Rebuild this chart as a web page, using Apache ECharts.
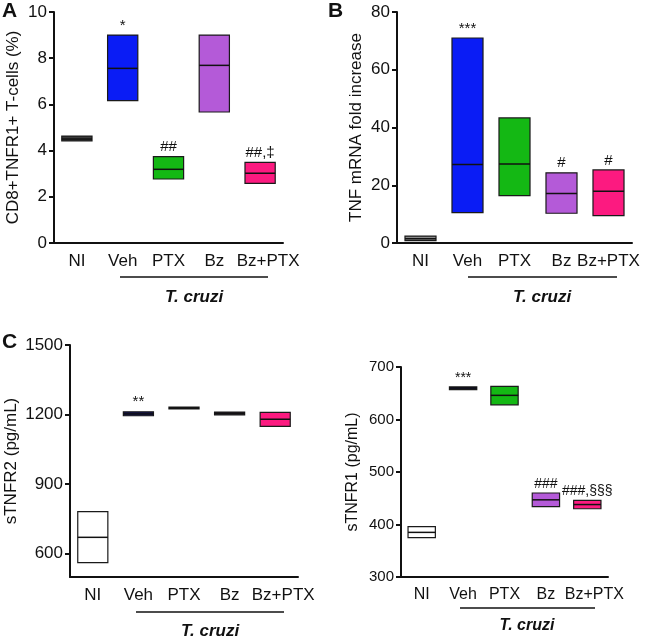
<!DOCTYPE html>
<html>
<head>
<meta charset="utf-8">
<script src="https://cdn.jsdelivr.net/npm/echarts@6/dist/echarts.min.js"></script>
<style>html,body{margin:0;padding:0;background:#fff;}#c{width:650px;height:637px;}</style>
</head>
<body>
<div id="c"></div>
<script>
const categories = ['NI', 'Veh', 'PTX', 'Bz', 'Bz+PTX'];

// Panel A: CD8+TNFR1+ T-cells (%)
const aLow = [4.42, 6.16, 2.77, 5.67, 2.58];
const aHigh = [4.63, 9.0, 3.74, 9.0, 3.49];
const aMedian = [4.5, 7.56, 3.19, 7.69, 3.02];
const aMarks = ['', '*', '##', '', '##,‡'];

// Panel B: TNF mRNA fold increase
const bLow = [0.8, 10.5, 16.4, 10.3, 9.5];
const bHigh = [2.4, 71.0, 43.3, 24.3, 25.3];
const bMedian = [1.5, 27.2, 27.4, 17.1, 17.9];
const bMarks = ['', '***', '', '#', '#'];

// Panel C: sTNFR2 (pg/mL)
const cLow = [562, 1195, 1225, 1199, 1149];
const cHigh = [782, 1212, 1232, 1211, 1210];
const cMedian = [671, 1203, 1228, 1205, 1180];
const cMarks = ['', '**', '', '', ''];

// Panel D: sTNFR1 (pg/mL)
const dLow = [375, 657, 628, 434, 430];
const dHigh = [396, 662, 663, 460, 446];
const dMedian = [385, 660, 646, 447, 438];
const dMarks = ['', '***', '', '###', '###,§§§'];

const aTicks = [0, 2, 4, 6, 8, 10];
const bTicks = [0, 20, 40, 60, 80];
const cTicks = [600, 900, 1200, 1500];
const dTicks = [300, 400, 500, 600, 700];

const BLUE = '#0a1cf5', GREEN = '#14b814', PURPLE = '#b45ad8', PINK = '#fc1a80';
const aColors = ['#3a3a3a', BLUE, GREEN, PURPLE, PINK];
const bColors = ['#8a8a8a', BLUE, GREEN, PURPLE, PINK];
const cColors = ['#ffffff', '#0c0c5a', '#111111', '#2b1b33', PINK];
const dColors = ['#ffffff', '#0c0c4a', GREEN, PURPLE, PINK];

const FONT = '"Liberation Sans", Arial, sans-serif';

function rows(lo, hi, md) {
  return categories.map((c, i) => [i, lo[i], hi[i], md[i]]);
}

function makeRender(colors, marks, markSize) {
  return function (params, api) {
    const i = api.value(0);
    const lo = api.value(1), hi = api.value(2), md = api.value(3);
    const pT = api.coord([i, hi]);
    const pB = api.coord([i, lo]);
    const pM = api.coord([i, md]);
    const w = api.size([1, 0])[0] * 0.66;
    const x0 = pT[0] - w / 2;
    const idx = params.dataIndex;
    const children = [
      { type: 'rect', shape: { x: x0, y: pT[1], width: w, height: Math.max(pB[1] - pT[1], 1) },
        style: { fill: colors[idx], stroke: '#1a1a1a', lineWidth: 1.2 } },
      { type: 'line', shape: { x1: x0, y1: pM[1], x2: x0 + w, y2: pM[1] },
        style: { stroke: '#111', lineWidth: 1.5 } }
    ];
    if (marks[idx]) {
      children.push({ type: 'text', x: pT[0], y: pT[1] - 2,
        style: { text: marks[idx], fill: '#111', font: markSize + 'px ' + FONT, align: 'center', verticalAlign: 'bottom' } });
    }
    return { type: 'group', children: children };
  };
}

function yAxis(gi, min, max, ticks, name, nameGap, size, nameSize) {
  return {
    type: 'value', gridIndex: gi, min: min, max: max,
    name: name, nameLocation: 'middle', nameGap: nameGap, nameRotate: 90,
    nameTextStyle: { fontFamily: FONT, fontSize: nameSize, color: '#111' },
    axisLine: { show: true, lineStyle: { color: '#111', width: 2 } },
    axisTick: { show: true, length: 5, lineStyle: { color: '#111', width: 2 }, customValues: ticks },
    axisLabel: { fontFamily: FONT, fontSize: size, color: '#111', margin: 7, customValues: ticks,
      formatter: function (v) { return String(v); } },
    splitLine: { show: false }
  };
}

function xAxis(gi, size, shift) {
  return {
    type: 'category', gridIndex: gi, data: categories,
    axisLine: { show: true, lineStyle: { color: '#111', width: 2 } },
    axisTick: { show: false },
    axisLabel: {
      fontFamily: FONT, fontSize: size, color: '#111', margin: 10, interval: 0,
      formatter: function (v, i) { return i === categories.length - 1 ? '{s|' + v + '}' : v; },
      rich: { s: { fontFamily: FONT, fontSize: size, color: '#111', padding: [0, 0, 0, shift] } }
    }
  };
}

const chart = echarts.init(document.getElementById('c'));
chart.setOption({
  animation: false,
  backgroundColor: '#fff',
  grid: [
    { left: 54, top: 12, right: 367, bottom: 394 },
    { left: 397, top: 12, right: 18, bottom: 394 },
    { left: 70, top: 345, right: 352, bottom: 60 },
    { left: 401, top: 367, right: 42, bottom: 60 }
  ],
  xAxis: [xAxis(0, 17, 16), xAxis(1, 17, 0), xAxis(2, 17, 16), xAxis(3, 16, 14)],
  yAxis: [
    yAxis(0, 0, 10, aTicks, 'CD8+TNFR1+ T-cells (%)', 32, 17, 17),
    yAxis(1, 0, 80, bTicks, 'TNF mRNA fold increase', 32, 17, 17),
    yAxis(2, 500, 1500, cTicks, 'sTNFR2 (pg/mL)', 50, 17, 17),
    yAxis(3, 300, 700, dTicks, 'sTNFR1 (pg/mL)', 40, 15, 16)
  ],
  series: [
    { type: 'custom', xAxisIndex: 0, yAxisIndex: 0, data: rows(aLow, aHigh, aMedian), renderItem: makeRender(aColors, aMarks, 15), encode: { x: 0, y: [1, 2, 3] } },
    { type: 'custom', xAxisIndex: 1, yAxisIndex: 1, data: rows(bLow, bHigh, bMedian), renderItem: makeRender(bColors, bMarks, 15), encode: { x: 0, y: [1, 2, 3] } },
    { type: 'custom', xAxisIndex: 2, yAxisIndex: 2, data: rows(cLow, cHigh, cMedian), renderItem: makeRender(cColors, cMarks, 15), encode: { x: 0, y: [1, 2, 3] } },
    { type: 'custom', xAxisIndex: 3, yAxisIndex: 3, data: rows(dLow, dHigh, dMedian), renderItem: makeRender(dColors, dMarks, 14), encode: { x: 0, y: [1, 2, 3] } }
  ],
  graphic: [
    { type: 'text', left: 2, top: 1, style: { text: 'A', font: 'bold 21px ' + FONT, fill: '#111' } },
    { type: 'text', left: 328, top: 1, style: { text: 'B', font: 'bold 21px ' + FONT, fill: '#111' } },
    { type: 'text', left: 2, top: 332, style: { text: 'C', font: 'bold 21px ' + FONT, fill: '#111' } },
    { type: 'line', shape: { x1: 120, y1: 277, x2: 268, y2: 277 }, style: { stroke: '#111', lineWidth: 1.5 } },
    { type: 'line', shape: { x1: 468, y1: 277, x2: 617, y2: 277 }, style: { stroke: '#111', lineWidth: 1.5 } },
    { type: 'line', shape: { x1: 136, y1: 612, x2: 284, y2: 612 }, style: { stroke: '#111', lineWidth: 1.5 } },
    { type: 'line', shape: { x1: 460, y1: 608, x2: 595, y2: 608 }, style: { stroke: '#111', lineWidth: 1.5 } },
    { type: 'text', x: 194, y: 297, style: { text: 'T. cruzi', font: 'italic bold 17px ' + FONT, fill: '#111', align: 'center', verticalAlign: 'middle' } },
    { type: 'text', x: 542, y: 297, style: { text: 'T. cruzi', font: 'italic bold 17px ' + FONT, fill: '#111', align: 'center', verticalAlign: 'middle' } },
    { type: 'text', x: 210, y: 631, style: { text: 'T. cruzi', font: 'italic bold 17px ' + FONT, fill: '#111', align: 'center', verticalAlign: 'middle' } },
    { type: 'text', x: 527, y: 626, style: { text: 'T. cruzi', font: 'italic bold 16px ' + FONT, fill: '#111', align: 'center', verticalAlign: 'middle' } }
  ]
});
</script>
</body>
</html>
